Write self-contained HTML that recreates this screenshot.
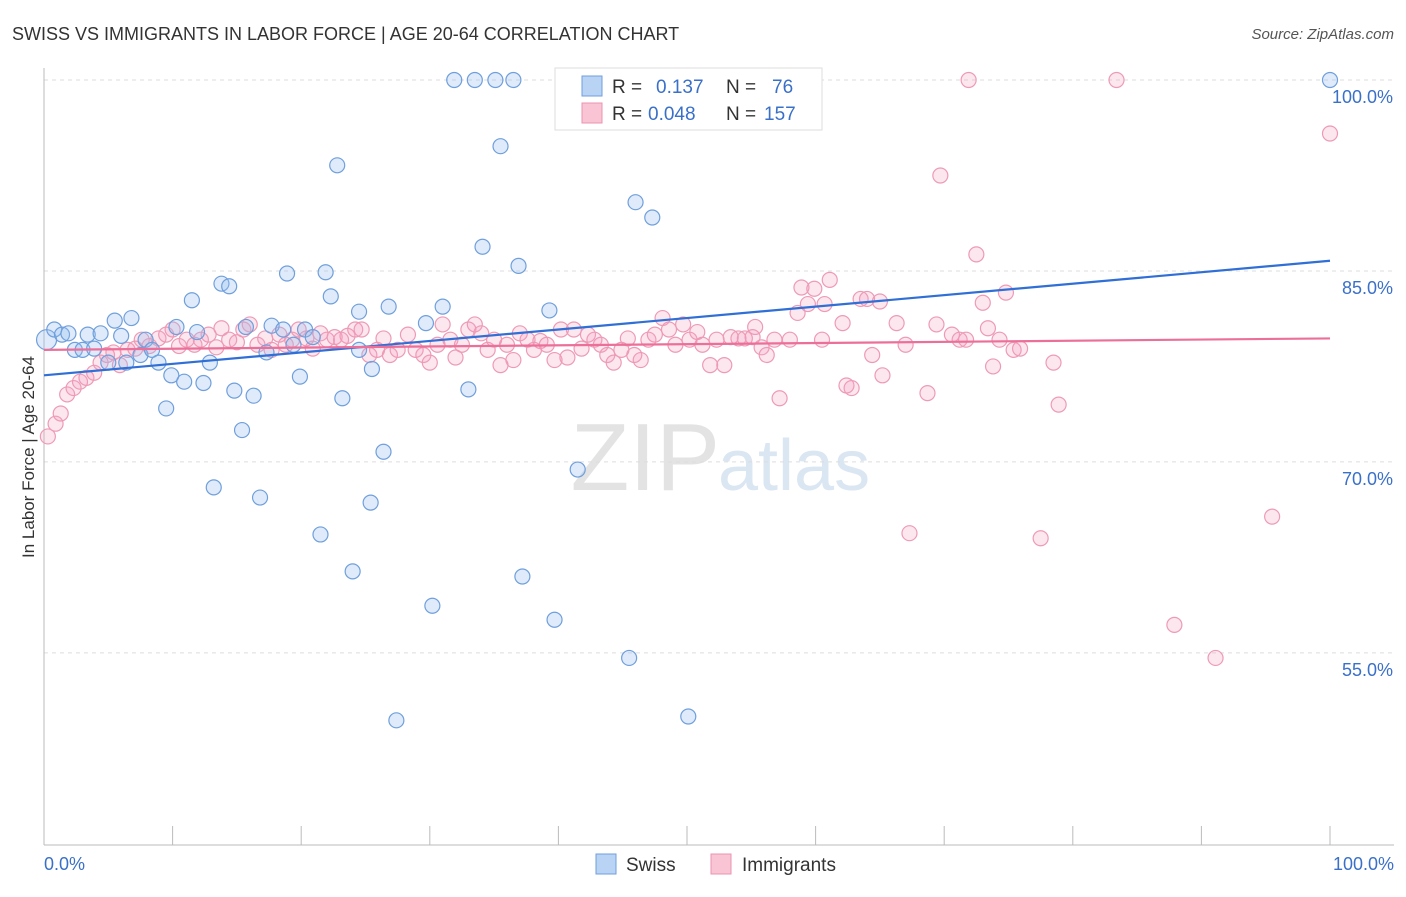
<!DOCTYPE html>
<html><head><meta charset="utf-8"><style>
body{margin:0;background:#fff;font-family:"Liberation Sans",sans-serif}
svg text{font-family:"Liberation Sans",sans-serif}
</style></head><body>
<svg width="1406" height="892" viewBox="0 0 1406 892" xmlns="http://www.w3.org/2000/svg">
<text x="12" y="40" font-size="18" fill="#333">SWISS VS IMMIGRANTS IN LABOR FORCE | AGE 20-64 CORRELATION CHART</text>
<text x="1394" y="39" font-size="15" fill="#555" font-style="italic" text-anchor="end">Source: ZipAtlas.com</text>
<text x="720" y="490" font-size="96" fill="#e3e3e3" text-anchor="end" font-family="Liberation Serif">ZIP</text>
<text x="718" y="490" font-size="72" fill="#dbe6f3">atlas</text>
<g id="grid"></g>
<g id="axes"></g>
<g id="pts"></g>
<g id="lines"></g>
<text transform="translate(34,457) rotate(-90)" font-size="17" fill="#333" text-anchor="middle">In Labor Force | Age 20-64</text>
<g>
<rect x="555" y="68" width="267" height="62" fill="#fff" stroke="#ddd"/>
<rect x="582" y="76" width="20" height="20" fill="#b9d3f5" stroke="#6f9fdc"/>
<rect x="582" y="103" width="20" height="20" fill="#f9c5d5" stroke="#eb93b0"/>
<text x="612" y="93" font-size="19" fill="#333">R = </text><text x="656" y="93" font-size="19" fill="#3a70c8">0.137</text>
<text x="726" y="93" font-size="19" fill="#333">N = </text><text x="772" y="93" font-size="19" fill="#3a70c8">76</text>
<text x="612" y="120" font-size="19" fill="#333">R = </text><text x="648" y="120" font-size="19" fill="#3a70c8">0.048</text>
<text x="726" y="120" font-size="19" fill="#333">N = </text><text x="764" y="120" font-size="19" fill="#3a70c8">157</text>
</g>
<g>
<rect x="596" y="854" width="20" height="20" fill="#b9d3f5" stroke="#6f9fdc"/>
<text x="626" y="871" font-size="19" fill="#333">Swiss</text>
<rect x="711" y="854" width="20" height="20" fill="#f9c5d5" stroke="#eb93b0"/>
<text x="742" y="871" font-size="19" fill="#333">Immigrants</text>
</g>
</svg>
<script>
const yTicks=[100,85,70,55];
const yTickLabels=["100.0%","85.0%","70.0%","55.0%"];
const xEndLabels=["0.0%","100.0%"];
const swissX=[0.2,0.8,1.4,1.9,2.4,3.0,3.4,3.9,4.4,5.0,5.5,6.0,6.4,6.8,7.5,7.9,8.4,8.9,9.5,9.9,10.3,10.9,11.5,11.9,12.4,12.9,13.2,13.8,14.4,14.8,15.4,15.7,16.3,16.8,17.3,17.7,18.6,18.9,19.4,19.9,20.3,20.9,21.5,21.9,22.3,22.8,23.2,24.0,24.5,24.5,25.4,25.5,26.4,26.8,27.4,29.7,30.2,31.0,31.9,33.0,33.5,34.1,35.1,35.5,36.5,36.9,37.2,39.3,39.7,41.5,45.5,46.0,47.3,50.1,51.2,100];
const swissY=[79.6,80.4,80.0,80.1,78.8,78.8,80.0,78.9,80.1,77.8,81.1,79.9,77.8,81.3,78.4,79.6,78.8,77.8,74.2,76.8,80.6,76.3,82.7,80.2,76.2,77.8,68.0,84.0,83.8,75.6,72.5,80.6,75.2,67.2,78.6,80.7,80.4,84.8,79.2,76.7,80.4,79.8,64.3,84.9,83.0,93.3,75.0,61.4,78.8,81.8,66.8,77.3,70.8,82.2,49.7,80.9,58.7,82.2,100,75.7,100,86.9,100,94.8,100,85.4,61.0,81.9,57.6,69.4,54.6,90.4,89.2,50.0,100,100];
const immX=[0.3,0.9,1.3,1.8,2.3,2.8,3.3,3.9,4.4,4.9,5.4,5.9,6.5,7.1,7.6,8.2,8.9,9.5,10.0,10.5,11.1,11.7,12.2,12.8,13.4,13.8,14.4,15.0,15.5,16.0,16.6,17.2,17.7,18.3,18.8,19.3,19.8,20.4,20.9,21.5,22.0,22.6,23.1,23.6,24.2,24.7,25.3,25.9,26.4,26.9,27.5,28.3,28.9,29.5,30.0,30.6,31.0,31.6,32.0,32.5,33.0,33.5,34.0,34.5,35.0,35.5,36.0,36.5,37.0,37.6,38.1,38.6,39.1,39.7,40.2,40.7,41.2,41.8,42.3,42.8,43.3,43.8,44.3,44.9,45.4,45.9,46.4,47.0,47.5,48.1,48.6,49.1,49.7,50.2,50.8,51.2,51.8,52.3,52.9,53.4,54.0,54.5,55.1,55.3,55.8,56.2,56.8,57.2,58.0,58.6,58.9,59.4,59.9,60.5,60.7,61.1,62.1,62.4,62.8,63.5,64.0,64.4,65.0,65.2,66.3,67.0,67.3,68.7,69.4,69.7,70.6,71.2,71.7,71.9,72.5,73.0,73.4,73.8,74.3,74.8,75.4,75.9,77.5,78.5,78.9,83.4,87.9,91.1,95.5,100];
const immY=[72.0,73.0,73.8,75.3,75.8,76.3,76.6,77.0,77.8,78.4,78.6,77.6,78.8,78.9,79.6,79.1,79.7,80.0,80.4,79.1,79.6,79.2,79.6,80.0,79.0,80.5,79.6,79.4,80.4,80.8,79.2,79.7,78.8,80.0,79.2,79.6,80.4,79.7,78.9,80.1,79.6,79.8,79.6,79.9,80.4,80.4,78.4,78.8,79.7,78.4,78.8,80.0,78.8,78.4,77.8,79.2,80.8,79.6,78.2,79.2,80.4,80.8,80.1,78.8,79.6,77.6,79.2,78.0,80.1,79.6,78.8,79.5,79.2,78.0,80.4,78.2,80.4,78.9,80.0,79.6,79.2,78.4,77.8,78.8,79.7,78.4,78.0,79.6,80.0,81.3,80.4,79.2,80.8,79.6,80.2,79.2,77.6,79.6,77.6,79.8,79.7,79.7,79.8,80.6,79.0,78.4,79.6,75.0,79.6,81.7,83.7,82.4,83.6,79.6,82.4,84.3,80.9,76.0,75.8,82.8,82.8,78.4,82.6,76.8,80.9,79.2,64.4,75.4,80.8,92.5,80.0,79.6,79.6,100,86.3,82.5,80.5,77.5,79.6,83.3,78.8,78.9,64.0,77.8,74.5,100,57.2,54.6,65.7,95.8];
const swissLine=[76.8,85.8];
const immLine=[78.8,79.7];

const NS="http://www.w3.org/2000/svg";
const X0=44,X1=1330,Y100=80,PX=12.73;
const sx=v=>X0+(X1-X0)*v/100;
const sy=v=>Y100+(100-v)*PX;
function mk(t,a,p){const e=document.createElementNS(NS,t);for(const k in a)e.setAttribute(k,a[k]);p.appendChild(e);return e;}
const grid=document.getElementById('grid'),axes=document.getElementById('axes'),pts=document.getElementById('pts'),lines=document.getElementById('lines');
yTicks.forEach((v,i)=>{
 const l=mk('line',{x1:X0,x2:1394,y1:sy(v),y2:sy(v),stroke:'#ddd','stroke-dasharray':'4 4'},grid);
 
 
 const t=mk('text',{x:1393,y:sy(v)+23,'font-size':18,fill:'#3a70c8','text-anchor':'end'},grid);
 t.textContent=yTickLabels[i];
 
 
});
let a=mk('line',{x1:X0,x2:X0,y1:68,y2:845,stroke:'#bbb'},axes);


a=mk('line',{x1:X0,x2:1394,y1:845,y2:845,stroke:'#bbb'},axes);


for(let i=0;i<=10;i++){
 const tk=mk('line',{x1:sx(i*10),x2:sx(i*10),y1:826,y2:845,stroke:'#bbb'},axes);
 
 
}
[[0,'start',44],[100,'end',1394]].forEach((d,i)=>{
 const t=mk('text',{x:d[2],y:870,'font-size':18,fill:'#3a70c8','text-anchor':d[1]},axes);
 t.textContent=xEndLabels[i];
 
 
});
immX.forEach((x,i)=>{
 const c=mk('circle',{cx:sx(x),cy:sy(immY[i]),r:7.5,fill:'rgba(244,160,190,0.25)',stroke:'#ee9ab6','stroke-width':1.2},pts);
 
 
});
swissX.forEach((x,i)=>{
 const c=mk('circle',{cx:sx(x),cy:sy(swissY[i]),r:i===0?10:7.5,fill:'rgba(150,190,240,0.3)',stroke:'#6f9fdc','stroke-width':1.2},pts);
 
 
});
let ln=mk('line',{x1:sx(0),x2:sx(100),y1:sy(swissLine[0]),y2:sy(swissLine[1]),stroke:'#2f6fd6','stroke-width':2.2},lines);


ln=mk('line',{x1:sx(0),x2:sx(100),y1:sy(immLine[0]),y2:sy(immLine[1]),stroke:'#ec6f99','stroke-width':2.2},lines);


</script>
</body></html>
